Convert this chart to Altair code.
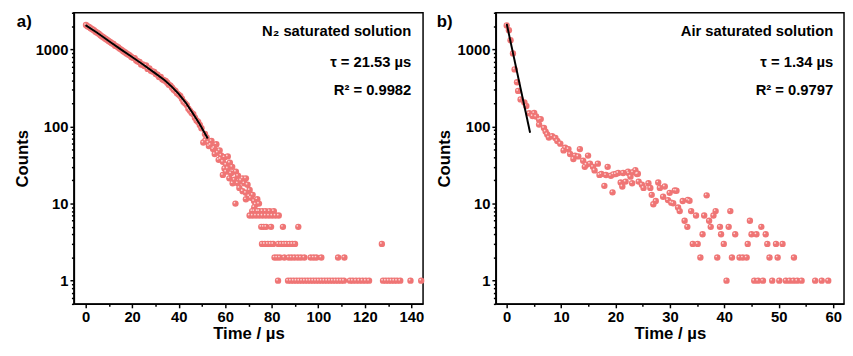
import altair as alt
import pandas as pd

FONT = "Liberation Sans"
PT = "#EF7575"
HL = "#FCD6D6"

# ---------------- Panel a: N2 saturated solution ----------------
a_time = [0.2, 0.8, 1.5, 2.2, 2.9, 3.6, 4.3, 5.0, 5.7, 6.4, 7.1, 7.8, 8.5, 9.2, 9.9,
          10.6, 11.3, 12.0, 12.7, 13.4, 14.1, 14.8, 15.5, 16.2, 16.9, 17.6, 18.3, 19.0,
          19.7, 20.4, 21.1, 21.8, 22.5, 23.2, 23.9, 24.6, 25.3, 26.0, 26.7, 27.4, 28.1,
          28.8, 29.5, 30.2, 30.9, 31.6, 32.3, 33.0, 33.7, 34.4, 35.1, 35.8, 36.5, 37.2,
          37.9, 38.6, 39.3, 40.0, 40.7, 41.4, 42.1, 42.8, 43.5, 44.2, 44.9, 45.6, 46.3,
          47.0, 47.7, 48.4, 49.1, 49.8,
          50.6, 51.3, 52.0, 53.0, 54.1, 54.8, 56.2, 55.5, 57.6, 58.3, 59.7, 61.1, 60.4,
          58.0, 59.0, 59.7, 61.1, 60.4, 59.0, 62.5, 64.6, 61.8, 64.0, 63.2, 65.4, 66.1,
          67.5, 68.9, 68.2, 69.6, 67.5, 68.9, 70.3, 68.9, 71.0, 72.4, 73.8, 73.1, 64.4,
          51.5, 52.8, 53.7, 55.3, 56.8, 57.2, 62.0, 63.0, 65.5, 66.8, 70.5, 71.8, 72.5, 74.5,
          71.6, 72.5, 73.9, 74.6, 76.0, 77.4, 79.1, 80.9,
          70.5, 71.8, 73.2, 74.6, 76.0, 77.4, 78.8, 80.2, 81.6, 83.0,
          75.5, 76.5, 77.6, 79.7, 84.8, 91.4,
          75.8, 77.0, 78.3, 79.5, 80.6, 82.8, 84.0, 85.2, 86.3, 87.6, 88.8, 90.0, 127.3,
          81.2, 82.3, 83.5, 85.4, 87.3, 88.5, 89.8, 91.2, 92.5, 94.0, 96.7, 98.0, 99.2,
          101.3, 108.5, 111.2,
          82.7, 87.0, 88.2, 89.4, 90.6, 91.8, 93.0, 94.2, 95.4, 96.6, 97.8, 99.0, 100.2,
          101.4, 102.6, 103.8, 105.0, 106.2, 107.4, 108.6, 109.8, 111.0, 113.6, 114.8,
          116.2, 117.6, 119.0, 120.4, 121.8, 127.8, 129.0, 130.2, 131.4, 132.6, 133.8,
          135.2, 139.6, 144.2]
a_counts = [2080, 2010, 1960, 1890, 1830, 1780, 1700, 1650, 1600, 1530, 1480, 1430, 1380,
            1340, 1290, 1250, 1210, 1180, 1120, 1100, 1060, 1020, 990, 950, 920, 890, 860,
            840, 800, 780, 770, 720, 700, 690, 640, 640, 610, 620, 560, 570, 530, 520, 510,
            480, 470, 440, 440, 410, 400, 390, 370, 350, 340, 320, 300, 290, 270, 260, 250,
            230, 210, 200, 190, 170, 160, 150, 145, 130, 120, 115, 105, 95,
            62, 80, 72, 56, 65, 51, 59, 44, 49, 42, 40, 41, 32,
            38, 35, 28.6, 28.6, 26, 23.6, 24.7, 26, 21.3, 20.4, 18.4, 18.4, 16,
            21.3, 21.3, 18.4, 17.6, 14.5, 13.8, 12.5, 11.4, 11.9, 10.8, 11.4, 9.8, 10,
            66, 62, 58, 53, 46, 37, 34, 30, 23, 20, 15, 13, 9, 10,
            8, 8, 8, 8, 8, 8, 8, 8,
            7, 7, 7, 7, 7, 7, 7, 7, 7, 7,
            5, 5, 5, 5, 5, 5,
            3, 3, 3, 3, 3, 3, 3, 3, 3, 3, 3, 3, 3,
            2, 2, 2, 2, 2, 2, 2, 2, 2, 2, 2, 2, 2, 2, 2, 2,
            1, 1, 1, 1, 1, 1, 1, 1, 1, 1, 1, 1, 1, 1, 1, 1, 1, 1, 1, 1, 1, 1, 1, 1, 1, 1,
            1, 1, 1, 1, 1, 1, 1, 1, 1, 1, 1, 1]
a_fit_time = [0, 5, 10, 15, 20, 25, 30, 34, 37, 40, 43, 46, 49, 52.5]
a_fit_counts = [2070, 1650, 1290, 1010, 800, 630, 490, 400, 330, 265, 205, 150, 108, 70]

# ---------------- Panel b: Air saturated solution ----------------
b_time = [0.0, 0.4, 0.7, 1.15, 1.45, 1.9, 2.1, 2.55, 3.25, 3.6, 4.15, 4.75, 5.05, 5.4,
          5.95, 6.25, 5.95, 6.85, 7.15, 7.45, 7.75, 8.35, 8.95, 9.3, 9.85, 10.75, 10.45,
          11.35, 11.65, 12.25, 12.55, 13.15, 13.45, 14.05, 14.35, 14.65, 14.95, 15.3,
          15.85, 16.15, 16.75, 17.05, 17.4, 17.95, 18.25, 18.55, 19.15, 19.45, 19.6,
          20.05, 20.5, 20.95, 21.25, 21.4, 21.85, 22.3, 22.45, 22.75, 23.05, 23.2, 23.65,
          23.95, 24.1, 24.25, 24.85, 25.15, 26.05, 26.4, 26.65, 26.95, 27.4, 27.85, 28.15,
          28.75, 29.05, 29.65, 29.95, 30.25, 30.6, 30.9, 31.2, 31.5, 32.35, 33.3, 33.6,
          31.8, 33.9, 38.4, 41.1,
          34.8, 36.3, 38.0,
          32.7, 37.2, 44.7,
          33.2, 37.5, 39.2, 40.8, 46.8,
          36.0, 39.4, 42.0, 45.0, 45.9, 47.6,
          34.2, 35.1, 39.9, 44.3, 47.9, 49.5, 50.7,
          35.6, 38.7, 41.4, 42.8, 43.4, 44.1, 48.3, 49.8, 52.8,
          36.75,
          40.4, 45.5, 46.2, 47.1, 48.8, 50.1, 51.3, 52.0, 52.7, 53.4, 54.2, 56.7, 57.9, 59.1]
b_counts = [2055, 1775, 1320, 890, 552, 376, 290, 225, 205, 185, 149, 137, 150, 135,
            123, 125, 106, 96, 86, 79, 72, 75, 71, 65, 60, 53, 49,
            51, 44, 38, 42, 41, 51, 36, 30, 32, 42, 33,
            30, 27, 33, 23.6, 24.2, 17, 23.5, 30, 23, 14, 24,
            24.2, 25, 18.8, 16.7, 25, 19.3, 26, 24.7, 22.4, 18.4, 25.5, 27.2,
            24.2, 24.5, 19.3, 17.6, 16, 18.4, 16, 13, 9.8, 10.8, 18.8, 16,
            12.3, 16.7, 11.1, 13.8, 10.3, 10.1, 14.8, 14.7, 8.9, 10.8, 11.2, 10.9,
            8, 8, 8, 8,
            7, 7, 7,
            6, 6, 6,
            5, 5, 5, 5, 5,
            4, 4, 4, 4, 4, 4,
            3, 3, 3, 3, 3, 3, 3,
            2, 2, 2, 2, 2, 2, 2, 2, 2,
            12.8,
            1, 1, 1, 1, 1, 1, 1, 1, 1, 1, 1, 1, 1, 1]
b_fit_time = [0, 4.3]
b_fit_counts = [2150, 83]

y_major = [1, 10, 100, 1000]
y_minor = [0.5, 0.6, 0.7, 0.8, 0.9, 2, 3, 4, 5, 6, 7, 8, 9, 20, 30, 40, 50, 60, 70, 80, 90,
           200, 300, 400, 500, 600, 700, 800, 900, 2000, 3000]
a_x_major = [0, 20, 40, 60, 80, 100, 120, 140]
a_x_minor = [10, 30, 50, 70, 90, 110, 130]
b_x_major = [0, 10, 20, 30, 40, 50, 60]
b_x_minor = [5, 15, 25, 35, 45, 55]

a_lines = ["N\u2082 saturated solution", "\u03c4 = 21.53 \u00b5s", "R\u00b2 = 0.9982"]
b_lines = ["Air saturated solution", "\u03c4 = 1.34 \u00b5s", "R\u00b2 = 0.9797"]

H = 296


def panel(times, counts, ft, fc, xdom, xmaj, xmin, width, label, lines, label_x, text_right):
    df = pd.DataFrame({"t": times, "c": counts})
    fit = pd.DataFrame({"t": ft, "c": fc})
    xs = alt.Scale(domain=xdom, nice=False, zero=False)
    ys = alt.Scale(type="log", domain=[0.5, 3000], nice=False)
    x_axis = alt.Axis(orient="bottom", values=xmaj, format="d", title="Time / \u00b5s",
                      tickSize=4, labelPadding=2, titlePadding=1, labelFlush=False,
                      labelOverlap=False)
    y_axis = alt.Axis(orient="left", values=y_major, format="d", title="Counts",
                      tickSize=4, labelPadding=2, titlePadding=3.5, labelFlush=False,
                      labelOverlap=False)
    x_minor_axis = alt.Axis(orient="bottom", values=xmin, labels=False, domain=False,
                            tickSize=2.5, title=None)
    y_minor_axis = alt.Axis(orient="left", values=y_minor, labels=False, domain=False,
                            tickSize=2.5, title=None)
    pts = alt.Chart(df).mark_circle(size=42, color=PT, opacity=1).encode(
        x=alt.X("t:Q", scale=xs, axis=x_axis),
        y=alt.Y("c:Q", scale=ys, axis=y_axis),
    )
    hl = alt.Chart(df).mark_circle(size=3, color=HL, opacity=1, xOffset=-1, yOffset=-1).encode(
        x=alt.X("t:Q", scale=xs, axis=None),
        y=alt.Y("c:Q", scale=ys, axis=None),
    )
    fl = alt.Chart(fit).mark_line(color="black", strokeWidth=2).encode(
        x=alt.X("t:Q", scale=xs, axis=x_minor_axis),
        y=alt.Y("c:Q", scale=ys, axis=y_minor_axis),
    )
    layers = [pts, hl, fl]
    lab = alt.Chart(pd.DataFrame({"s": [label]})).mark_text(
        align="left", baseline="middle", fontSize=17, fontWeight="bold", font=FONT, color="black"
    ).encode(text="s:N", x=alt.value(label_x), y=alt.value(9))
    layers.append(lab)
    for txt, yy in zip(lines, [19, 50.5, 79]):
        t = alt.Chart(pd.DataFrame({"s": [txt]})).mark_text(
            align="right", baseline="middle", fontSize=15, fontWeight="bold", font=FONT,
            color="black"
        ).encode(text="s:N", x=alt.value(text_right), y=alt.value(yy))
        layers.append(t)
    return alt.layer(*layers).resolve_axis(x="independent", y="independent").properties(
        width=width, height=H
    )


pa = panel(a_time, a_counts, a_fit_time, a_fit_counts, [-5, 145], a_x_major, a_x_minor,
           355, "a)", a_lines, -58, 343)
pb = panel(b_time, b_counts, b_fit_time, b_fit_counts, [-2, 62], b_x_major, b_x_minor,
           354, "b)", b_lines, -60, 343)

chart = alt.hconcat(pa, pb, spacing=9).properties(
    padding={"left": 5, "top": 0, "right": 0, "bottom": 0}
).configure_view(stroke="black", strokeWidth=1.5).configure_axis(
    grid=False,
    domainColor="black",
    domainWidth=1.5,
    tickColor="black",
    tickWidth=1.5,
    labelFont=FONT,
    labelFontSize=15,
    labelFontWeight="bold",
    labelColor="black",
    titleFont=FONT,
    titleFontSize=17,
    titleFontWeight="bold",
    titleColor="black",
)

chart.save("out.html", embed_options={"renderer": "svg", "actions": False})
